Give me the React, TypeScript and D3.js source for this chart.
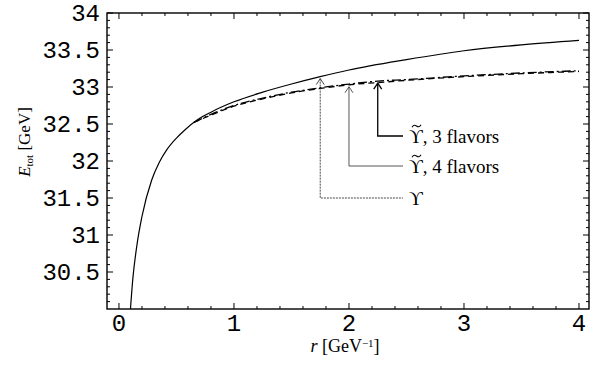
import React, { useRef, useEffect } from "react";
import * as d3 from "d3";

// r values (GeV^-1) and total energy (GeV)
const rFull = [0.1, 0.12, 0.154, 0.2, 0.284, 0.35, 0.415, 0.5, 0.58, 0.676, 0.8, 1.0, 1.25, 1.5, 1.75, 2.0, 2.5, 3.0, 3.5, 4.0];
const upsilon = [30.0, 30.4, 30.84, 31.25, 31.74, 31.98, 32.15, 32.31, 32.43, 32.55, 32.66, 32.8, 32.93, 33.04, 33.14, 33.23, 33.37, 33.49, 33.57, 33.63];

const rTilde = [0.65, 0.8, 1.0, 1.25, 1.5, 1.75, 2.0, 2.25, 2.5, 3.0, 3.5, 4.0];
const tilde3 = [32.52, 32.63, 32.75, 32.85, 32.93, 32.99, 33.04, 33.08, 33.1, 33.15, 33.19, 33.22];
const tilde4 = [32.52, 32.62, 32.74, 32.84, 32.92, 32.98, 33.03, 33.06, 33.09, 33.14, 33.18, 33.21];

const xTicks = [0, 1, 2, 3, 4];
const yTicks = [30.5, 31, 31.5, 32, 32.5, 33, 33.5, 34];

// annotations: r where the arrow points, label, whether the symbol carries a tilde
const annotR = [1.75, 2.0, 2.25];
const annotLabels = ["ϒ", "ϒ, 4 flavors", "ϒ, 3 flavors"];
const annotTilde = [false, true, true];

const W = 597;
const H = 366;
const frame = { left: 107, right: 589, top: 13, bottom: 309 };
const serif = "Liberation Serif, DejaVu Serif, serif";

function App() {
  const svgRef = useRef(null);

  useEffect(() => {
    const svg = d3.select(svgRef.current);
    svg.selectAll("*").remove();

    const x = d3.scaleLinear().domain([-0.104, 4.087]).range([frame.left, frame.right]);
    const y = d3.scaleLinear().domain([30, 34]).range([frame.bottom, frame.top]);

    // ticks inside the frame, all four sides
    const ticks = svg.append("g").attr("stroke", "#000").attr("stroke-width", 1);
    const minorX = d3.range(0.2, 4, 0.2).filter((v) => Math.abs(v - Math.round(v)) > 0.01);
    const minorY = d3.range(30.1, 34, 0.1).filter((v) => Math.abs(v * 2 - Math.round(v * 2)) > 0.01);
    const addX = (vals, len) => {
      vals.forEach((v) => {
        ticks.append("line").attr("x1", x(v)).attr("x2", x(v)).attr("y1", frame.bottom).attr("y2", frame.bottom - len);
        ticks.append("line").attr("x1", x(v)).attr("x2", x(v)).attr("y1", frame.top).attr("y2", frame.top + len);
      });
    };
    const addY = (vals, len) => {
      vals.forEach((v) => {
        ticks.append("line").attr("y1", y(v)).attr("y2", y(v)).attr("x1", frame.left).attr("x2", frame.left + len);
        ticks.append("line").attr("y1", y(v)).attr("y2", y(v)).attr("x1", frame.right).attr("x2", frame.right - len);
      });
    };
    addX(xTicks, 6);
    addX(minorX, 3);
    addY(yTicks, 6);
    addY(minorY, 3);

    svg
      .append("rect")
      .attr("x", frame.left)
      .attr("y", frame.top)
      .attr("width", frame.right - frame.left)
      .attr("height", frame.bottom - frame.top)
      .attr("fill", "none")
      .attr("stroke", "#000")
      .attr("stroke-width", 1.4);

    // tick labels (Courier style)
    svg
      .selectAll(".xl")
      .data(xTicks)
      .join("text")
      .attr("x", (d) => x(d))
      .attr("y", 331)
      .attr("text-anchor", "middle")
      .attr("font-family", "Liberation Mono, monospace")
      .attr("font-size", 24)
      .text((d) => d);

    svg
      .selectAll(".yl")
      .data(yTicks)
      .join("text")
      .attr("x", 100)
      .attr("y", (d) => y(d))
      .attr("dy", "0.33em")
      .attr("text-anchor", "end")
      .attr("font-family", "Liberation Mono, monospace")
      .attr("font-size", 24)
      .text((d) => d);

    // curves
    const line = d3
      .line()
      .x((d) => x(d[0]))
      .y((d) => y(d[1]))
      .curve(d3.curveMonotoneX);

    const clip = svg.append("clipPath").attr("id", "clip");
    clip
      .append("rect")
      .attr("x", frame.left)
      .attr("y", frame.top)
      .attr("width", frame.right - frame.left)
      .attr("height", frame.bottom - frame.top);
    const plot = svg.append("g").attr("clip-path", "url(#clip)").attr("fill", "none").attr("stroke", "#000");

    plot.append("path").attr("d", line(d3.zip(rFull, upsilon))).attr("stroke-width", 1.2);
    plot
      .append("path")
      .attr("d", line(d3.zip(rTilde, tilde4)))
      .attr("stroke-width", 1.3)
      .attr("stroke-dasharray", "6,4");
    plot
      .append("path")
      .attr("d", line(d3.zip(rTilde, tilde3)))
      .attr("stroke-width", 1.3)
      .attr("stroke-dasharray", "9,3,2,3");

    // annotation arrows and leader lines
    const tipValues = [
      upsilon[rFull.indexOf(1.75)],
      tilde4[rTilde.indexOf(2.0)],
      tilde3[rTilde.indexOf(2.25)],
    ];
    const labelY = [198, 166, 136];
    const styles = [
      { w: 0.9, dash: "2,1", color: "#333" },
      { w: 0.9, dash: null, color: "#444" },
      { w: 1.3, dash: null, color: "#000" },
    ];
    annotR.forEach((r, i) => {
      const ax = x(r);
      const tip = y(tipValues[i]) + 2;
      const g = svg
        .append("g")
        .attr("fill", "none")
        .attr("stroke", styles[i].color)
        .attr("stroke-width", styles[i].w);
      g.append("path")
        .attr("d", `M${ax},${tip} V${labelY[i]} H403`)
        .attr("stroke-dasharray", styles[i].dash);
      g.append("path").attr("d", `M${ax - 4},${tip + 6} L${ax},${tip} L${ax + 4},${tip + 6}`);
      svg
        .append("text")
        .attr("x", 409)
        .attr("y", labelY[i])
        .attr("dy", "0.35em")
        .attr("font-family", serif)
        .attr("font-size", 19)
        .text(annotLabels[i]);
      if (annotTilde[i]) {
        // tilde accent over the upsilon, drawn as a small wave
        const ty = labelY[i] - 10;
        svg
          .append("path")
          .attr("d", `M412,${ty + 1.2} C413.5,${ty - 1.5} 415,${ty - 1} 416.5,${ty} S419.5,${ty + 1.5} 421,${ty - 1.2}`)
          .attr("fill", "none")
          .attr("stroke", "#000")
          .attr("stroke-width", 1.1);
      }
    });

    // axis titles
    const yt = svg
      .append("text")
      .attr("transform", "translate(30,142) rotate(-90)")
      .attr("text-anchor", "middle")
      .attr("font-family", serif)
      .attr("font-size", 17);
    yt.append("tspan").attr("font-style", "italic").text("E");
    yt.append("tspan").attr("font-size", 11).attr("dy", 3).text("tot");
    yt.append("tspan").attr("dy", -3).text(" [GeV]");

    const xt = svg
      .append("text")
      .attr("x", 345)
      .attr("y", 352)
      .attr("text-anchor", "middle")
      .attr("font-family", serif)
      .attr("font-size", 18);
    xt.append("tspan").attr("font-style", "italic").text("r");
    xt.append("tspan").text(" [GeV");
    xt.append("tspan").attr("font-size", 11).attr("dy", -5).text("−1");
    xt.append("tspan").attr("dy", 5).text("]");
  }, []);

  return (
    <svg
      ref={svgRef}
      width={W}
      height={H}
      style={{ position: "absolute", left: 0, top: 0, background: "#fff" }}
    />
  );
}

export default App;
